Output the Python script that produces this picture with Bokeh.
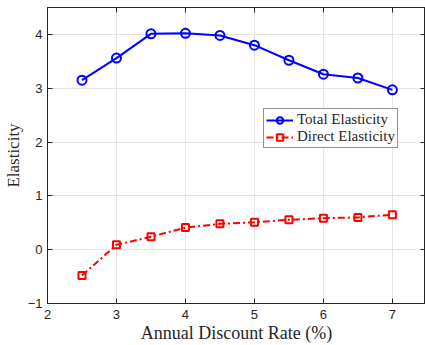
from bokeh.plotting import figure
from bokeh.models import LinearAxis, Legend, LegendItem, FixedTicker, Range1d
from bokeh.embed import file_html
from bokeh.resources import INLINE

rates = [2.5, 3.0, 3.5, 4.0, 4.5, 5.0, 5.5, 6.0, 6.5, 7.0]
total_elasticity = [3.15, 3.56, 4.01, 4.02, 3.98, 3.80, 3.52, 3.26, 3.19, 2.97]
direct_elasticity = [-0.48, 0.09, 0.24, 0.41, 0.48, 0.51, 0.555, 0.585, 0.60, 0.65]
x_ticks = [2, 3, 4, 5, 6, 7]
y_ticks = [-1, 0, 1, 2, 3, 4]

AX = "#262626"
SERIF = "Liberation Serif"
SANS = "Liberation Sans"

p = figure(width=425, height=345, output_backend="svg", toolbar_location=None,
           x_range=Range1d(2, 7.48), y_range=Range1d(-1, 4.5),
           min_border_left=47, min_border_right=0, min_border_top=7, min_border_bottom=41)
p.background_fill_color = "white"
p.border_fill_color = "white"
p.outline_line_color = AX
p.outline_line_width = 1

for ax in p.xaxis + p.yaxis:
    ax.axis_line_color = AX
    ax.major_tick_line_color = AX
    ax.major_tick_in = 5
    ax.major_tick_out = 0
    ax.minor_tick_line_color = None
    ax.major_label_text_font = SANS
    ax.major_label_text_font_size = "13px"
    ax.major_label_text_color = AX
    ax.axis_label_text_font = SERIF
    ax.axis_label_text_font_style = "normal"
    ax.axis_label_text_font_size = "17px"
    ax.axis_label_text_color = AX

p.xaxis.ticker = FixedTicker(ticks=x_ticks)
p.yaxis.ticker = FixedTicker(ticks=y_ticks)
p.xaxis.axis_label = "Annual Discount Rate (%)"
p.yaxis.axis_label = "Elasticity"
p.xaxis.axis_label_text_font_size = "18px"
p.xaxis.major_label_standoff = 6
p.xaxis.axis_label_standoff = 1
p.yaxis.major_label_standoff = 5
p.yaxis.axis_label_standoff = 2

top = LinearAxis(ticker=FixedTicker(ticks=x_ticks),
                 major_label_overrides={t: "" for t in x_ticks},
                 major_label_standoff=0, major_tick_in=5, major_tick_out=0,
                 minor_tick_line_color=None, axis_line_color=AX, major_tick_line_color=AX)
right = LinearAxis(ticker=FixedTicker(ticks=y_ticks),
                   major_label_overrides={t: "" for t in y_ticks},
                   major_label_standoff=0, major_tick_in=5, major_tick_out=0,
                   minor_tick_line_color=None, axis_line_color=AX, major_tick_line_color=AX)
p.add_layout(top, "above")
p.add_layout(right, "right")

p.xgrid.ticker = FixedTicker(ticks=x_ticks)
p.ygrid.ticker = FixedTicker(ticks=y_ticks)
p.grid.grid_line_color = "#e3e3e3"
p.grid.grid_line_width = 1

l1 = p.line(rates, total_elasticity, line_color="#0000ff", line_width=2)
s1 = p.scatter(rates, total_elasticity, marker="circle", size=9, line_color="#0000ff",
               line_width=2, fill_color=None)
l2 = p.line(rates, direct_elasticity, line_color="#ff0000", line_width=2, line_dash="7 3 2 3")
s2 = p.scatter(rates, direct_elasticity, marker="square", size=7, line_color="#ff0000",
               line_width=2, fill_color=None)

legend = Legend(items=[LegendItem(label="Total Elasticity", renderers=[l1, s1]),
                       LegendItem(label="Direct Elasticity", renderers=[l2, s2])],
                location=(216, 155))
legend.label_text_font = SERIF
legend.label_text_font_size = "15px"
legend.label_text_color = AX
legend.label_standoff = 4
legend.glyph_width = 27
legend.glyph_height = 16
legend.label_height = 16
legend.spacing = 0
legend.padding = 2
legend.margin = 0
legend.border_line_color = AX
legend.border_line_width = 1
legend.background_fill_alpha = 1
p.add_layout(legend)

open("out.html", "w").write(file_html(p, INLINE))
